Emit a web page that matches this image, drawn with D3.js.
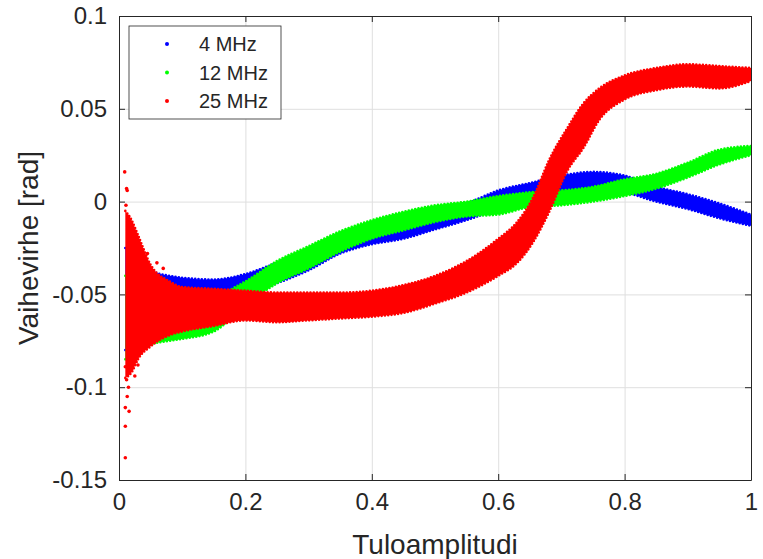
<!DOCTYPE html>
<html>
<head>
<meta charset="utf-8">
<script src="https://cdn.jsdelivr.net/npm/d3@7"></script>
<style>
  body { margin: 0; background: #fff; }
  text { font-family: "Liberation Sans", Arial, Helvetica, sans-serif; fill: #262626; }
</style>
</head>
<body>
<div id="chart"></div>
<script>
// axis ticks
const xTicks = [0, 0.2, 0.4, 0.6, 0.8, 1];
const yTicks = [-0.15, -0.1, -0.05, 0, 0.05, 0.1];

const seriesNames = ["4 MHz", "12 MHz", "25 MHz"];
const seriesColors = ["#0000ff", "#00ff00", "#ff0000"];

// point cloud of each series as [x, lower edge, upper edge]
const band4 = [
  [0.010, -0.080, -0.025], [0.020, -0.078, -0.022], [0.030, -0.072, -0.030],
  [0.050, -0.066, -0.037], [0.080, -0.062, -0.040], [0.100, -0.058, -0.041],
  [0.150, -0.054, -0.042], [0.200, -0.050, -0.039], [0.250, -0.044, -0.033],
  [0.300, -0.037, -0.027], [0.350, -0.028, -0.018], [0.400, -0.023, -0.014],
  [0.450, -0.020, -0.011], [0.500, -0.015, -0.006], [0.550, -0.010, -0.001],
  [0.600, -0.004, 0.006], [0.650, 0.001, 0.010], [0.700, 0.005, 0.014],
  [0.750, 0.007, 0.016], [0.800, 0.005, 0.014], [0.850, 0.000, 0.008],
  [0.900, -0.004, 0.004], [0.950, -0.009, -0.001], [1.000, -0.013, -0.007]
];
const band12 = [
  [0.010, -0.085, -0.040], [0.020, -0.082, -0.045], [0.030, -0.080, -0.050],
  [0.050, -0.077, -0.052], [0.080, -0.075, -0.053], [0.100, -0.074, -0.053],
  [0.150, -0.070, -0.051], [0.200, -0.056, -0.043], [0.250, -0.044, -0.032],
  [0.300, -0.036, -0.024], [0.350, -0.027, -0.016], [0.400, -0.020, -0.010],
  [0.450, -0.0155, -0.0055], [0.500, -0.011, -0.002], [0.550, -0.008, 0.000],
  [0.600, -0.007, 0.003], [0.650, -0.003, 0.005], [0.700, -0.002, 0.006],
  [0.750, 0.000, 0.008], [0.800, 0.003, 0.012], [0.850, 0.007, 0.015],
  [0.900, 0.013, 0.021], [0.950, 0.020, 0.028], [1.000, 0.025, 0.030]
];
const band25 = [
  [0.010, -0.095, -0.005], [0.020, -0.092, -0.010], [0.030, -0.085, -0.018],
  [0.050, -0.078, -0.034], [0.080, -0.072, -0.043], [0.100, -0.070, -0.046],
  [0.150, -0.067, -0.047], [0.200, -0.064, -0.048], [0.250, -0.065, -0.049],
  [0.300, -0.064, -0.049], [0.350, -0.063, -0.049], [0.400, -0.062, -0.048],
  [0.450, -0.060, -0.045], [0.500, -0.055, -0.040], [0.550, -0.049, -0.032],
  [0.600, -0.040, -0.020], [0.630, -0.033, -0.011], [0.655, -0.022, 0.002],
  [0.680, -0.006, 0.022], [0.710, 0.017, 0.040], [0.735, 0.029, 0.053],
  [0.760, 0.044, 0.061], [0.800, 0.055, 0.068], [0.850, 0.060, 0.072],
  [0.900, 0.062, 0.074], [0.950, 0.061, 0.073], [1.000, 0.065, 0.072]
];
// stray 25 MHz points at small amplitude
const outliers25 = [
  [0.009, 0.016], [0.012, 0.007], [0.013, 0.006], [0.011, -0.002], [0.015, -0.008],
  [0.010, -0.089], [0.012, -0.096], [0.015, -0.100], [0.013, -0.105], [0.010, -0.111],
  [0.016, -0.113], [0.010, -0.121], [0.010, -0.138], [0.025, -0.094], [0.030, -0.088],
  [0.020, -0.090], [0.035, -0.030], [0.045, -0.028], [0.060, -0.033], [0.070, -0.036]
];

const bands = [band4, band12, band25];

const width = 763, height = 559;
const margin = { top: 16, right: 12, bottom: 79, left: 119 };
const w = width - margin.left - margin.right;
const h = height - margin.top - margin.bottom;

const svg = d3.select("#chart").append("svg")
  .attr("width", width)
  .attr("height", height);

const g = svg.append("g").attr("transform", `translate(${margin.left},${margin.top})`);

const x = d3.scaleLinear().domain([0, 1]).range([0, w]);
const y = d3.scaleLinear().domain([-0.15, 0.1]).range([h, 0]);

// grid
g.append("g")
  .attr("transform", `translate(0,${h})`)
  .call(d3.axisBottom(x).tickValues(xTicks).tickSize(-h).tickFormat(""))
  .call(s => s.select(".domain").remove())
  .call(s => s.selectAll("line").attr("stroke", "#dfdfdf"));
g.append("g")
  .call(d3.axisLeft(y).tickValues(yTicks).tickSize(-w).tickFormat(""))
  .call(s => s.select(".domain").remove())
  .call(s => s.selectAll("line").attr("stroke", "#dfdfdf"));

// data clouds
const area = d3.area()
  .x(d => x(d[0]))
  .y0(d => y(d[1]))
  .y1(d => y(d[2]))
  .curve(d3.curveMonotoneX);
const lower = d3.line().x(d => x(d[0])).y(d => y(d[1])).curve(d3.curveMonotoneX);
const upper = d3.line().x(d => x(d[0])).y(d => y(d[2])).curve(d3.curveMonotoneX);

svg.append("defs").append("clipPath").attr("id", "plotClip")
  .append("rect").attr("x", 0).attr("y", 0).attr("width", w).attr("height", h);

const data = g.append("g").attr("clip-path", "url(#plotClip)");
bands.forEach((band, i) => {
  const c = seriesColors[i];
  data.append("path").attr("d", area(band)).attr("fill", c);
  [lower, upper].forEach(gen => {
    data.append("path")
      .attr("d", gen(band))
      .attr("fill", "none")
      .attr("stroke", c)
      .attr("stroke-width", 2.6)
      .attr("stroke-linecap", "round")
      .attr("stroke-dasharray", "0 3.3");
  });
});
data.selectAll("circle.out")
  .data(outliers25)
  .enter().append("circle")
  .attr("class", "out")
  .attr("cx", d => x(d[0]))
  .attr("cy", d => y(d[1]))
  .attr("r", 1.8)
  .attr("fill", seriesColors[2]);

// axes, ticks inside on all four sides
const fmt = d => String(d);
const axisStyle = s => {
  s.select(".domain").attr("stroke", "#262626");
  s.selectAll(".tick line").attr("stroke", "#262626");
  s.selectAll("text").attr("font-size", 24).attr("fill", "#262626")
    .attr("font-family", '"Liberation Sans", Arial, sans-serif');
};
g.append("g")
  .attr("transform", `translate(0,${h})`)
  .call(d3.axisBottom(x).tickValues(xTicks).tickSizeInner(-6).tickSizeOuter(0).tickPadding(13).tickFormat(fmt))
  .call(axisStyle);
g.append("g")
  .call(d3.axisTop(x).tickValues(xTicks).tickSizeInner(-6).tickSizeOuter(0).tickFormat(""))
  .call(axisStyle);
g.append("g")
  .call(d3.axisLeft(y).tickValues(yTicks).tickSizeInner(-6).tickSizeOuter(0).tickPadding(12).tickFormat(fmt))
  .call(axisStyle);
g.append("g")
  .attr("transform", `translate(${w},0)`)
  .call(d3.axisRight(y).tickValues(yTicks).tickSizeInner(-6).tickSizeOuter(0).tickFormat(""))
  .call(axisStyle);

// axis labels
svg.append("text")
  .attr("x", margin.left + w / 2)
  .attr("y", 554)
  .attr("text-anchor", "middle")
  .attr("font-size", 28)
  .text("Tuloamplitudi");
svg.append("text")
  .attr("transform", `translate(38,${margin.top + h / 2}) rotate(-90)`)
  .attr("text-anchor", "middle")
  .attr("font-size", 28)
  .text("Vaihevirhe [rad]");

// legend
const legend = svg.append("g").attr("transform", "translate(129,26)");
legend.append("rect")
  .attr("width", 152).attr("height", 93)
  .attr("fill", "#fff").attr("stroke", "#262626").attr("stroke-width", 0.8);
seriesNames.forEach((name, i) => {
  const ly = 18 + i * 28.5;
  legend.append("circle").attr("cx", 38).attr("cy", ly).attr("r", 2).attr("fill", seriesColors[i]);
  legend.append("text").attr("x", 70).attr("y", ly + 7).attr("font-size", 20).text(name);
});
</script>
</body>
</html>
